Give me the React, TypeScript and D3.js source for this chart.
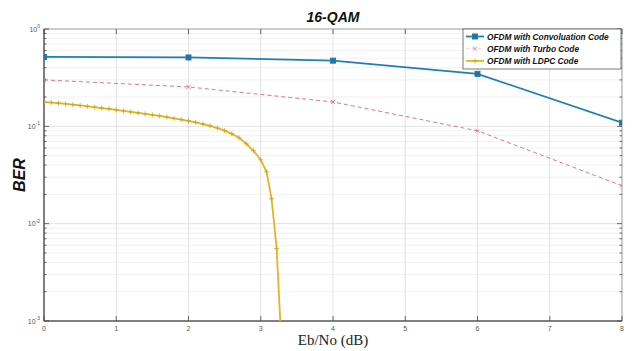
import { useEffect, useRef } from 'react';
import * as d3 from 'd3';

// Eb/No (dB) sample points and BER values
const convX = [0, 2, 4, 6, 8];
const convBER = [0.516, 0.51, 0.473, 0.346, 0.109];

const turboX = [0, 2, 4, 6, 8];
const turboBER = [0.30, 0.254, 0.178, 0.09, 0.0245];

const ldpcX = [
  0, 0.1, 0.2, 0.3, 0.4, 0.5, 0.6, 0.7, 0.8, 0.9,
  1.0, 1.1, 1.2, 1.3, 1.4, 1.5, 1.6, 1.7, 1.8, 1.9,
  2.0, 2.1, 2.2, 2.3, 2.4, 2.5, 2.6, 2.7, 2.8, 2.9,
  3.0, 3.08, 3.15, 3.22, 3.3
];
const ldpcBER = [
  0.1783, 0.1754, 0.1729, 0.1701, 0.1669, 0.1638, 0.1604, 0.1574, 0.1541, 0.1509,
  0.1477, 0.1442, 0.1409, 0.1376, 0.1344, 0.1312, 0.1281, 0.1245, 0.1208, 0.1171,
  0.1139, 0.1099, 0.1056, 0.1012, 0.0961, 0.0903, 0.0837, 0.0762, 0.0662, 0.0561,
  0.0453, 0.0341, 0.018, 0.00554, 0.00036
];

const xTicks = [0, 1, 2, 3, 4, 5, 6, 7, 8];
const yTickExps = [0, -1, -2, -3];
const legendLabels = ['OFDM with Convoluation Code', 'OFDM with Turbo Code', 'OFDM with LDPC Code'];

const W = 633;
const H = 351;

export default function App() {
  const svgRef = useRef<SVGSVGElement>(null);

  useEffect(() => {
    const svg = d3.select(svgRef.current);
    svg.selectAll('*').remove();

    const margin = { top: 29, right: 11, bottom: 30, left: 44 };
    const x0 = margin.left, x1 = W - margin.right;
    const y0 = margin.top, y1 = H - margin.bottom;

    const x = d3.scaleLinear().domain([0, 8]).range([x0, x1]);
    const y = d3.scaleLog().domain([1e-3, 1]).range([y1, y0]);

    svg.append('rect').attr('width', W).attr('height', H).attr('fill', '#fff');

    // grid: minor then major
    const minor: number[] = [];
    for (let e = -3; e < 0; e++) for (let m = 2; m <= 9; m++) minor.push(m * Math.pow(10, e));
    svg.append('g').selectAll('line').data(minor).enter().append('line')
      .attr('x1', x0).attr('x2', x1)
      .attr('y1', d => y(d)).attr('y2', d => y(d))
      .attr('stroke', '#ededed').attr('stroke-width', 0.8);
    svg.append('g').selectAll('line').data(yTickExps).enter().append('line')
      .attr('x1', x0).attr('x2', x1)
      .attr('y1', d => y(Math.pow(10, d))).attr('y2', d => y(Math.pow(10, d)))
      .attr('stroke', '#dcdcdc').attr('stroke-width', 0.8);
    svg.append('g').selectAll('line').data(xTicks).enter().append('line')
      .attr('x1', d => x(d)).attr('x2', d => x(d))
      .attr('y1', y0).attr('y2', y1)
      .attr('stroke', '#dcdcdc').attr('stroke-width', 0.8);

    // box
    svg.append('rect').attr('x', x0).attr('y', y0).attr('width', x1 - x0).attr('height', y1 - y0)
      .attr('fill', 'none').attr('stroke', '#9a9a9a').attr('stroke-width', 0.8);
    svg.append('line').attr('x1', x0).attr('x2', x0).attr('y1', y0).attr('y2', y1)
      .attr('stroke', '#333').attr('stroke-width', 1);
    svg.append('line').attr('x1', x0).attr('x2', x1).attr('y1', y1).attr('y2', y1)
      .attr('stroke', '#333').attr('stroke-width', 1);

    // ticks
    const tk = svg.append('g').attr('stroke', '#444').attr('stroke-width', 0.8);
    xTicks.forEach(t => {
      tk.append('line').attr('x1', x(t)).attr('x2', x(t)).attr('y1', y1).attr('y2', y1 - 5);
      tk.append('line').attr('x1', x(t)).attr('x2', x(t)).attr('y1', y0).attr('y2', y0 + 5);
    });
    yTickExps.forEach(e => {
      const yy = y(Math.pow(10, e));
      tk.append('line').attr('x1', x0).attr('x2', x0 + 5).attr('y1', yy).attr('y2', yy);
      tk.append('line').attr('x1', x1).attr('x2', x1 - 5).attr('y1', yy).attr('y2', yy);
    });
    minor.forEach(m => {
      const yy = y(m);
      tk.append('line').attr('x1', x0).attr('x2', x0 + 2.5).attr('y1', yy).attr('y2', yy);
      tk.append('line').attr('x1', x1).attr('x2', x1 - 2.5).attr('y1', yy).attr('y2', yy);
    });

    // tick labels
    svg.append('g').selectAll('text').data(xTicks).enter().append('text')
      .attr('x', d => x(d)).attr('y', y1 + 10)
      .attr('text-anchor', 'middle')
      .attr('font-family', 'Liberation Sans, Arial, sans-serif')
      .attr('font-size', 7).attr('fill', '#555')
      .text(d => d);
    const yl = svg.append('g').attr('font-family', 'Liberation Sans, Arial, sans-serif').attr('fill', '#555');
    yTickExps.forEach(e => {
      const t = yl.append('text').attr('x', x0 - 4).attr('y', y(Math.pow(10, e)) + 2.5)
        .attr('text-anchor', 'end').attr('font-size', 7);
      t.append('tspan').text('10');
      t.append('tspan').attr('dy', -3.5).attr('font-size', 5).text(String(e));
    });

    // clip
    svg.append('defs').append('clipPath').attr('id', 'plotClip')
      .append('rect').attr('x', x0).attr('y', y0).attr('width', x1 - x0).attr('height', y1 - y0);
    const plot = svg.append('g').attr('clip-path', 'url(#plotClip)');

    const line = d3.line<[number, number]>().x(d => x(d[0])).y(d => y(d[1]));

    const turbo = turboX.map((v, i) => [v, turboBER[i]] as [number, number]);
    const conv = convX.map((v, i) => [v, convBER[i]] as [number, number]);
    const ldpc = ldpcX.map((v, i) => [v, ldpcBER[i]] as [number, number]);

    const blue = '#1f7fb4';
    const red = '#d9657a';
    const gold = '#e6b422';

    // turbo
    plot.append('path').datum(turbo).attr('d', line)
      .attr('fill', 'none').attr('stroke', red).attr('stroke-width', 0.9)
      .attr('stroke-dasharray', '4,3');
    turbo.forEach(d => {
      const cx = x(d[0]), cy = y(d[1]);
      plot.append('path').attr('d', `M${cx - 2},${cy - 2}L${cx + 2},${cy + 2}M${cx - 2},${cy + 2}L${cx + 2},${cy - 2}`)
        .attr('stroke', red).attr('stroke-width', 0.8);
    });

    // ldpc
    plot.append('path').datum(ldpc).attr('d', line)
      .attr('fill', 'none').attr('stroke', gold).attr('stroke-width', 1.8);
    ldpc.forEach(d => {
      const cx = x(d[0]), cy = y(d[1]);
      plot.append('path').attr('d', `M${cx - 2.5},${cy}L${cx + 2.5},${cy}M${cx},${cy - 2.5}L${cx},${cy + 2.5}`)
        .attr('stroke', '#c9a21e').attr('stroke-width', 0.8);
    });

    // conv
    plot.append('path').datum(conv).attr('d', line)
      .attr('fill', 'none').attr('stroke', blue).attr('stroke-width', 1.8);
    plot.selectAll('.sq').data(conv).enter().append('rect')
      .attr('x', d => x(d[0]) - 2.5).attr('y', d => y(d[1]) - 2.5)
      .attr('width', 5).attr('height', 5)
      .attr('fill', '#2a6f9a').attr('stroke', blue).attr('stroke-width', 1);

    // legend
    const lg = svg.append('g');
    lg.append('rect').attr('x', 463).attr('y', 29).attr('width', 158).attr('height', 40)
      .attr('fill', '#fff').attr('stroke', '#555').attr('stroke-width', 0.8);
    const colors = [blue, red, gold];
    legendLabels.forEach((lab, i) => {
      const ly = 36.5 + i * 12.2;
      const c = colors[i];
      if (i === 0) {
        lg.append('line').attr('x1', 466).attr('x2', 484).attr('y1', ly).attr('y2', ly)
          .attr('stroke', c).attr('stroke-width', 1.8);
        lg.append('rect').attr('x', 472.5).attr('y', ly - 2.5).attr('width', 5).attr('height', 5)
          .attr('fill', '#2a6f9a').attr('stroke', c).attr('stroke-width', 1);
      } else if (i === 1) {
        lg.append('line').attr('x1', 466).attr('x2', 484).attr('y1', ly).attr('y2', ly)
          .attr('stroke', c).attr('stroke-width', 0.6).attr('stroke-dasharray', '3,3').attr('opacity', 0.5);
        lg.append('path').attr('d', `M473,${ly - 2}L477,${ly + 2}M473,${ly + 2}L477,${ly - 2}`)
          .attr('stroke', c).attr('stroke-width', 0.8);
      } else {
        lg.append('line').attr('x1', 466).attr('x2', 484).attr('y1', ly).attr('y2', ly)
          .attr('stroke', c).attr('stroke-width', 1.8);
        lg.append('path').attr('d', `M472.5,${ly}L477.5,${ly}M475,${ly - 2.5}L475,${ly + 2.5}`)
          .attr('stroke', '#c9a21e').attr('stroke-width', 0.8);
      }
      lg.append('text').attr('x', 487).attr('y', ly + 3)
        .attr('font-family', 'Liberation Sans, Arial, sans-serif')
        .attr('font-size', 8.3).attr('font-weight', 'bold').attr('font-style', 'italic')
        .attr('fill', '#111').text(lab);
    });

    // titles
    svg.append('text').attr('x', (x0 + x1) / 2).attr('y', 22)
      .attr('text-anchor', 'middle')
      .attr('font-family', 'Liberation Sans, Arial, sans-serif')
      .attr('font-size', 14).attr('font-weight', 'bold').attr('font-style', 'italic')
      .attr('fill', '#111').text('16-QAM');
    svg.append('text')
      .attr('transform', `translate(25,${(y0 + y1) / 2}) rotate(-90)`)
      .attr('text-anchor', 'middle')
      .attr('font-family', 'Liberation Sans, Arial, sans-serif')
      .attr('font-size', 16).attr('font-weight', 'bold').attr('font-style', 'italic')
      .attr('fill', '#111').text('BER');
    svg.append('text').attr('x', (x0 + x1) / 2).attr('y', 345)
      .attr('text-anchor', 'middle')
      .attr('font-family', 'Liberation Serif, Times New Roman, serif')
      .attr('font-size', 15).attr('fill', '#222').text('Eb/No (dB)');
  }, []);

  return (
    <div style={{ position: 'absolute', left: 0, top: 0 }}>
      <svg ref={svgRef} width={W} height={H}></svg>
    </div>
  );
}
